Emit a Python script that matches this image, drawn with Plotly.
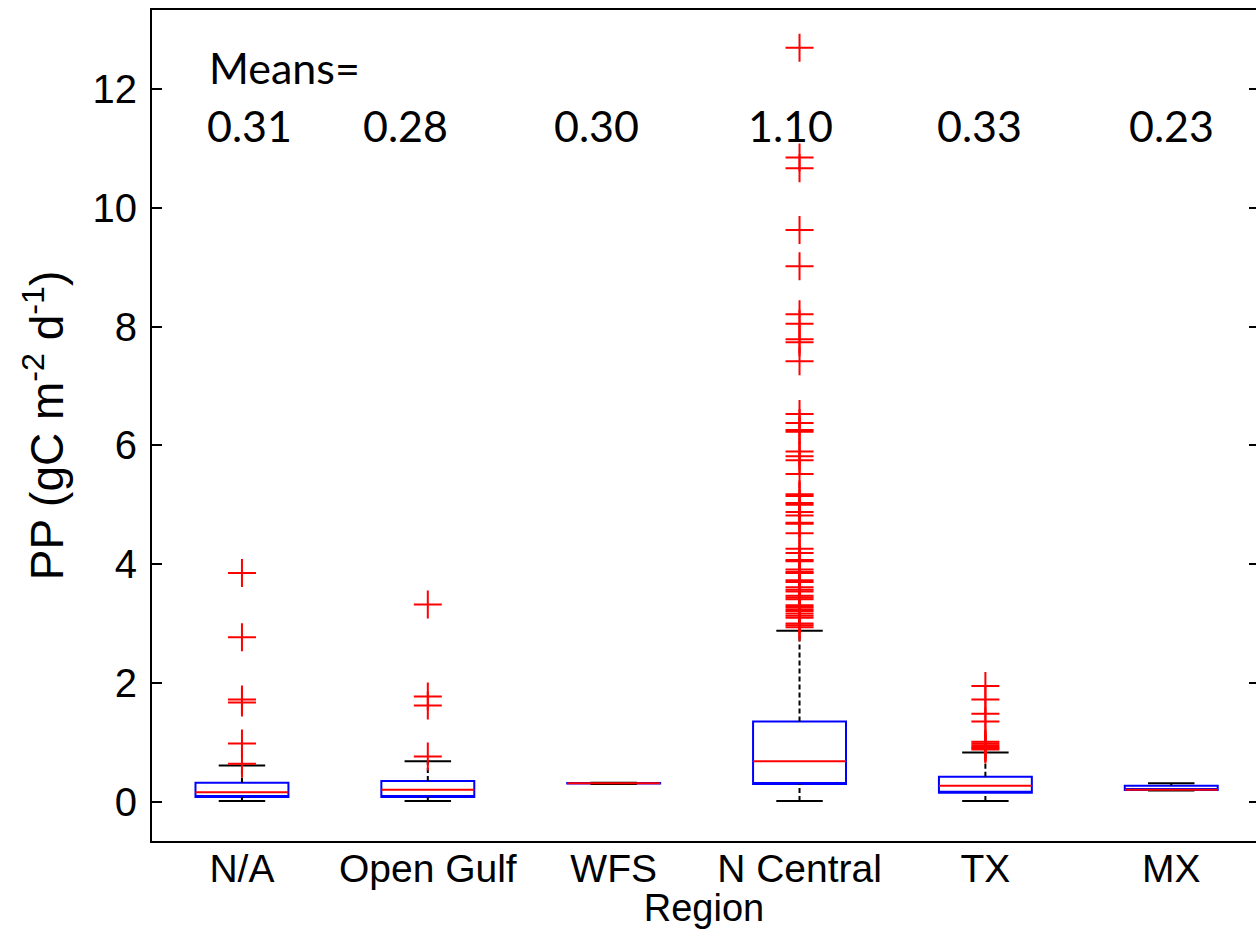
import plotly.graph_objects as go

# ---------------- data ----------------
regions = ["N/A", "Open Gulf", "WFS", "N Central", "TX", "MX"]
q1 = [0.08, 0.08, 0.305, 0.30, 0.15, 0.195]
median = [0.16, 0.20, 0.31, 0.68, 0.27, 0.20]
q3 = [0.32, 0.35, 0.315, 1.35, 0.42, 0.27]
lower_whisker = [0.01, 0.01, 0.30, 0.01, 0.01, 0.19]
upper_whisker = [0.61, 0.68, 0.32, 2.88, 0.83, 0.31]
means = [0.31, 0.28, 0.30, 1.10, 0.33, 0.23]

outliers_na = [3.85, 2.77, 1.72, 1.67, 0.98, 0.64]
outliers_open_gulf = [3.32, 1.77, 1.62, 0.76]
outliers_wfs = []
outliers_n_central = [12.70, 10.85, 10.67, 9.63, 9.02, 8.21, 8.05, 7.79, 7.74, 7.42,
                      6.53, 6.38, 6.26, 6.23, 5.90, 5.82, 5.75, 5.52, 5.18, 5.15,
                      5.03, 5.00, 4.88, 4.82, 4.70, 4.68, 4.52, 4.26, 4.19, 4.07,
                      4.05, 3.91, 3.87, 3.85, 3.73, 3.70, 3.61, 3.57, 3.54, 3.47,
                      3.44, 3.41, 3.31, 3.28, 3.24, 3.21, 3.17, 3.13, 3.10, 3.00,
                      2.97, 2.94]
outliers_tx = [1.95, 1.72, 1.48, 1.35, 1.01, 0.98, 0.95, 0.92, 0.90, 0.88]
outliers_mx = []
outliers = [outliers_na, outliers_open_gulf, outliers_wfs,
            outliers_n_central, outliers_tx, outliers_mx]

# annotation placement (x in category units)
mean_label_x = [1.04, 1.88, 2.91, 3.95, 4.97, 6.0]

# ---------------- styling ----------------
BLUE = "#0000FF"
RED = "#FF0000"
BOX_HALF = 0.25
CAP_HALF = 0.125
pos = list(range(1, len(regions) + 1))

fig = go.Figure()

# boxes: blue outline only (the red median is drawn separately on top,
# so the box trace's own median line is placed on the lower edge)
fig.add_trace(go.Box(x=pos, q1=q1, median=q1, q3=q3,
                     lowerfence=q1, upperfence=q3,
                     width=2 * BOX_HALF, boxpoints=False,
                     line=dict(color=BLUE, width=2),
                     fillcolor="rgba(0,0,0,0)", whiskerwidth=0,
                     hoverinfo="skip", showlegend=False))

# whiskers (dashed)
wx, wy = [], []
for p, a, b, c, d in zip(pos, lower_whisker, q1, q3, upper_whisker):
    wx += [p, p, None, p, p, None]
    wy += [a, b, None, c, d, None]
fig.add_trace(go.Scatter(x=wx, y=wy, mode="lines", hoverinfo="skip",
                         line=dict(color="black", width=2, dash="5px,3px"),
                         showlegend=False))

# whisker caps
cx, cy = [], []
for p, a, d in zip(pos, lower_whisker, upper_whisker):
    cx += [p - CAP_HALF, p + CAP_HALF, None, p - CAP_HALF, p + CAP_HALF, None]
    cy += [a, a, None, d, d, None]
fig.add_trace(go.Scatter(x=cx, y=cy, mode="lines", hoverinfo="skip",
                         line=dict(color="black", width=2), showlegend=False))

# medians
mx, my = [], []
for p, m in zip(pos, median):
    mx += [p - BOX_HALF, p + BOX_HALF, None]
    my += [m, m, None]
fig.add_trace(go.Scatter(x=mx, y=my, mode="lines", hoverinfo="skip",
                         line=dict(color=RED, width=2), showlegend=False))

# outliers
ox, oy = [], []
for p, vals in zip(pos, outliers):
    ox += [p] * len(vals)
    oy += vals
fig.add_trace(go.Scatter(x=ox, y=oy, mode="markers", showlegend=False,
                         marker=dict(symbol="cross-thin", size=20,
                                     color=RED, line=dict(color=RED, width=2))))

# dummy trace for right-side ticks
fig.add_trace(go.Scatter(x=[None], y=[None], yaxis="y2", showlegend=False))

# annotations
fig.add_annotation(x=0.813, y=12.36, xref="x", yref="y", text="Means=",
                   showarrow=False, xanchor="left", yanchor="middle",
                   font=dict(family="Lato", size=43, color="black"))
for xv, m in zip(mean_label_x, means):
    fig.add_annotation(x=xv, y=11.39, xref="x", yref="y", text=f"{m:.2f}",
                       showarrow=False, xanchor="center", yanchor="middle",
                       font=dict(family="Lato", size=43, color="black"))

fig.update_layout(
    width=1256, height=929,
    margin=dict(l=152, r=0, t=10, b=88),
    paper_bgcolor="white", plot_bgcolor="white",
    font=dict(family="Liberation Sans", color="black"),
    xaxis=dict(range=[0.516, 6.456], tickmode="array", tickvals=pos,
               ticktext=regions, ticks="", showgrid=False, zeroline=False,
               showline=True, linecolor="black", linewidth=2, mirror=True,
               tickfont=dict(size=39, family="Liberation Sans"),
               ticklabelstandoff=-8,
               title=dict(text="Region", font=dict(size=38), standoff=5)),
    yaxis=dict(range=[-0.662, 13.335], tickmode="array",
               tickvals=[0, 2, 4, 6, 8, 10, 12], ticks="inside", ticklen=10,
               tickwidth=2, tickcolor="black", showgrid=False, zeroline=False,
               showline=True, linecolor="black", linewidth=2,
               tickfont=dict(size=40, family="Liberation Sans"),
               ticklabelstandoff=5,
               title=dict(text="PP (gC m<sup>-2</sup> d<sup>-1</sup>)",
                          font=dict(size=46), standoff=14)),
    yaxis2=dict(range=[-0.662, 13.335], overlaying="y", side="right",
                matches="y", tickmode="array",
                tickvals=[0, 2, 4, 6, 8, 10, 12], ticks="inside", ticklen=7,
                tickwidth=2, tickcolor="black", showticklabels=False,
                showgrid=False, zeroline=False, showline=False),
)

fig.write_html("out.html")
